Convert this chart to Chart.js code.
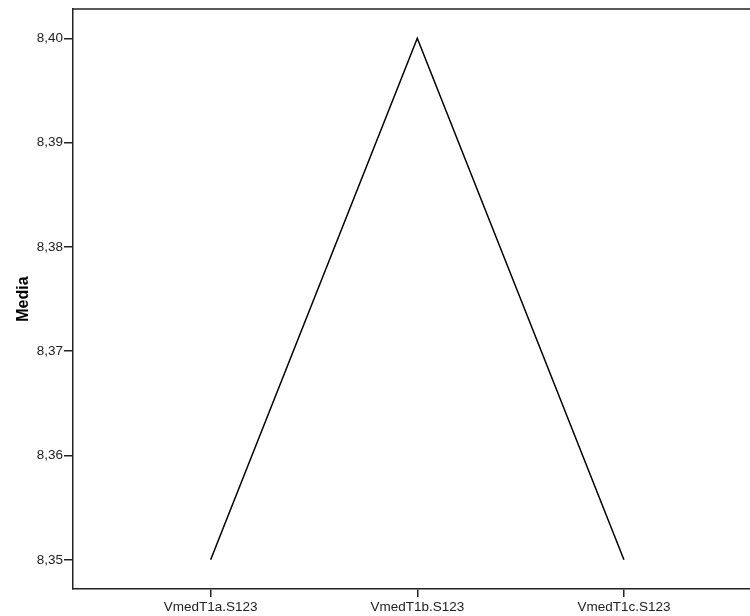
<!DOCTYPE html>
<html>
<head>
<meta charset="utf-8">
<script src="https://cdn.jsdelivr.net/npm/chart.js@4.4.1/dist/chart.umd.min.js"></script>
<style>
  html, body { margin: 0; padding: 0; background: #fff; overflow: hidden; }
  #wrap { width: 750px; height: 616px; }
</style>
</head>
<body>
<div id="wrap"><canvas id="ChartMedia"></canvas></div>
<script>
const categorias = ['VmedT1a.S123', 'VmedT1b.S123', 'VmedT1c.S123'];
const medias = [8.35, 8.40, 8.35];
const ticksY = [8.35, 8.36, 8.37, 8.38, 8.39, 8.40];

// borde superior del marco
const marcoSuperior = {
    id: 'marcoSuperior',
    afterDraw(chart) {
        const ctx = chart.ctx;
        const a = chart.chartArea;
        ctx.save();
        ctx.strokeStyle = '#222';
        ctx.lineWidth = 1.5;
        ctx.beginPath();
        ctx.moveTo(a.left, a.top);
        ctx.lineTo(chart.width, a.top);
        ctx.stroke();
        ctx.restore();
    }
};

const dataMedia = {
    datasets: [{
        data: medias.map((v, i) => ({ x: i, y: v })),
        borderColor: '#000',
        borderWidth: 1.5,
        pointRadius: 0,
        fill: false,
        tension: 0
    }]
};

const configMedia = {
    type: 'line',
    data: dataMedia,
    plugins: [marcoSuperior],
    options: {
        responsive: false,
        animation: false,
        layout: { padding: { top: 6, left: 0, right: 0, bottom: 0 } },
        plugins: {
            legend: { display: false },
            tooltip: { enabled: false }
        },
        scales: {
            x: {
                type: 'linear',
                min: -0.666,
                max: 2.61,
                afterBuildTicks: (scale) => {
                    scale.ticks = categorias.map((c, i) => ({ value: i }));
                },
                afterFit: (scale) => { scale.height = 27; },
                grid: {
                    drawOnChartArea: false,
                    drawTicks: true,
                    tickLength: 8,
                    color: '#222',
                    lineWidth: 1.5
                },
                border: { display: true, color: '#222', width: 1.5 },
                ticks: {
                    color: '#222',
                    padding: 2,
                    maxRotation: 0,
                    font: { family: 'Liberation Sans, Arial', size: 13.5 },
                    callback: (v) => categorias[v]
                }
            },
            y: {
                min: 8.3472,
                max: 8.4028,
                afterBuildTicks: (scale) => {
                    scale.ticks = ticksY.map(v => ({ value: v }));
                },
                afterFit: (scale) => { scale.width = 73; },
                grid: {
                    drawOnChartArea: false,
                    drawTicks: true,
                    tickLength: 9,
                    color: '#222',
                    lineWidth: 1.5
                },
                border: { display: true, color: '#222', width: 1.5 },
                ticks: {
                    color: '#222',
                    padding: 1,
                    font: { family: 'Liberation Sans, Arial', size: 13.5 },
                    callback: (v) => v.toFixed(2).replace('.', ',')
                },
                title: {
                    display: true,
                    text: 'Media',
                    color: '#000',
                    padding: { top: 14, bottom: 0 },
                    font: { family: 'Liberation Sans, Arial', size: 16, weight: 'bold' }
                }
            }
        }
    }
};

const canvas = document.getElementById('ChartMedia');
canvas.width = 750;
canvas.height = 616;
const chartMedia = new Chart(canvas, configMedia);
</script>
</body>
</html>
